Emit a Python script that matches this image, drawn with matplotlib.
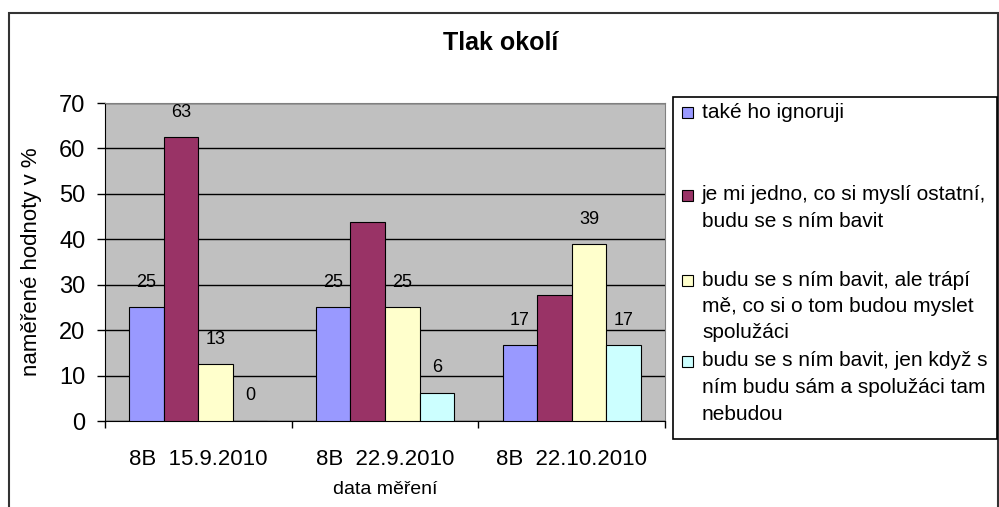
import numpy as np
import matplotlib.pyplot as plt
from matplotlib.patches import Rectangle

plt.rcParams['font.family'] = ['Liberation Sans', 'DejaVu Sans']

# data
categories = ['8B  15.9.2010', '8B  22.9.2010', '8B  22.10.2010']
series_names = [
    'také ho ignoruji',
    'je mi jedno, co si myslí ostatní,\nbudu se s ním bavit',
    'budu se s ním bavit, ale trápí\nmě, co si o tom budou myslet\nspolužáci',
    'budu se s ním bavit, jen když s\nním budu sám a spolužáci tam\nnebudou',
]
ignoruji = [25.0, 25.0, 16.67]
jedno = [62.5, 43.75, 27.78]
trapi = [12.5, 25.0, 38.89]
sam = [0.0, 6.25, 16.67]
# labels shown in the chart (some hidden)
lab_ignoruji = ['25', '25', '17']
lab_jedno = ['63', '', '']
lab_trapi = ['13', '25', '39']
lab_sam = ['0', '6', '17']

colors = ['#9999FF', '#993366', '#FFFFCC', '#CCFFFF']
W, H = 999, 507

fig = plt.figure(figsize=(W / 100, H / 100), dpi=100)

# outer frame of the chart
fig.patches.append(Rectangle((9 / W, -0.05), 989 / W, 1.05 - 13 / H,
                             transform=fig.transFigure, fill=False,
                             edgecolor='#333333', lw=1.5))

ax = fig.add_axes([105 / W, (H - 421) / H, 560 / W, 318 / H])
ax.set_facecolor('#C0C0C0')

x = np.arange(len(categories)) + 0.5
w = 0.185
all_vals = [ignoruji, jedno, trapi, sam]
all_labs = [lab_ignoruji, lab_jedno, lab_trapi, lab_sam]
for i, (vals, labs) in enumerate(zip(all_vals, all_labs)):
    pos = x + (i - 1.5) * w
    ax.bar(pos, vals, width=w, color=colors[i], edgecolor='black',
           linewidth=0.8, zorder=3)
    for px, v, t in zip(pos, vals, labs):
        if t:
            ax.annotate(t, (px, v), xytext=(0, 18), textcoords='offset points',
                        ha='center', va='center', fontsize=13, zorder=4)

ax.set_ylim(0, 70)
ax.set_xlim(0, 3)
ax.set_yticks(np.arange(0, 71, 10))
ax.yaxis.grid(True, color='black', lw=1, zorder=1)
ax.set_axisbelow(True)
ax.tick_params(axis='y', labelsize=17, length=6, width=1, direction='out', pad=8)
ax.set_xticks([0, 1, 2, 3])
ax.set_xticklabels([])
ax.set_xticks(x, minor=True)
ax.set_xticklabels(categories, minor=True, fontsize=16)
ax.tick_params(axis='x', which='major', length=5, width=1, direction='out')
ax.tick_params(axis='x', which='minor', length=0, pad=20)
for s in ['top', 'right']:
    ax.spines[s].set_color('#808080')
for s in ['left', 'bottom']:
    ax.spines[s].set_color('black')

ax.set_xlabel('data měření', fontsize=14, labelpad=8)
ax.set_ylabel('naměřené hodnoty v %', fontsize=16)
ax.yaxis.set_label_coords(-63 / 560, 0.5)

fig.text(501 / W, 1 - 43 / H, 'Tlak okolí', ha='center', va='center',
         fontsize=18, fontweight='bold')

# legend box
lx0, ly0, lx1, ly1 = 673, 97, 997, 439
fig.patches.append(Rectangle((lx0 / W, 1 - ly1 / H), (lx1 - lx0) / W,
                             (ly1 - ly0) / H, transform=fig.transFigure,
                             facecolor='white', edgecolor='black', lw=1.2))
entry_y = [112, 195, 280, 361]
line_h = 26.5
for name, c, ey in zip(series_names, colors, entry_y):
    fig.patches.append(Rectangle((682 / W, 1 - (ey + 6) / H), 11 / W, 11 / H,
                                 transform=fig.transFigure, facecolor=c,
                                 edgecolor='black', lw=0.8))
    for k, line in enumerate(name.split('\n')):
        fig.text(702 / W, 1 - (ey + k * line_h) / H, line, ha='left',
                 va='center', fontsize=15)

fig.savefig('out.png', dpi=100)
